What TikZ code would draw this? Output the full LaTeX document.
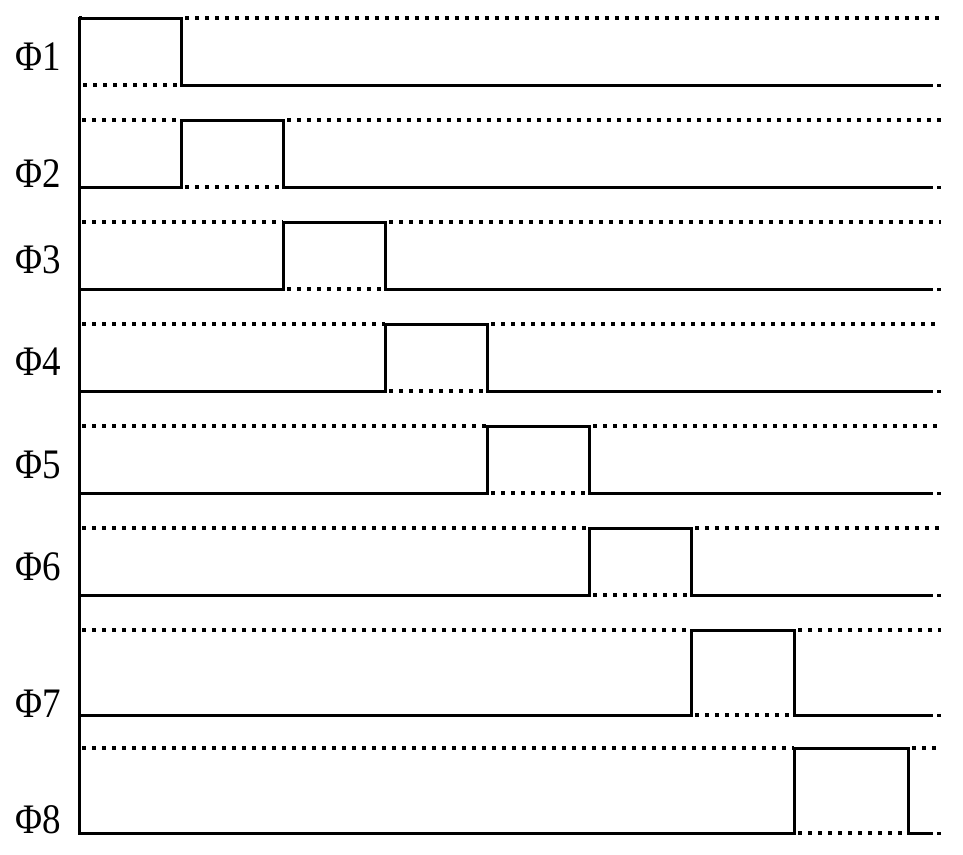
\documentclass[tikz,border=0pt]{standalone}
\usepackage{fontspec}
\setmainfont{Liberation Serif}
\begin{document}
\begin{tikzpicture}[x=1pt,y=-1pt,
  sig/.style={line width=3pt, line cap=butt, line join=miter},
  dots/.style={line width=3.2pt, dash pattern=on 3.5pt off 6.5pt},
  lbl/.style={anchor=base west, inner sep=0pt, xscale=0.88, font=\fontsize{42}{42}\selectfont}]
\useasboundingbox (0,0) rectangle (963,854);
\draw[sig] (79,18) -- (79,834.5);
\foreach \i/\h/\l/\a/\b/\bl in {1/18/85/79/181/70, 2/120/187/181/283/187, 3/222/289/283/385/273, 4/324/391/385/487/375, 5/426/493/487/589/478, 6/528/595/589/691/580, 7/630/715/691/794/717, 8/748/833/794/908/833}{
  \draw[sig] (79,\l) -- (\a,\l) -- (\a,\h) -- (\b,\h) -- (\b,\l) -- (933,\l);
  \draw[dots] (82,\h) -- (\a,\h);
  \draw[dots] (\b+4,\h) -- (941,\h);
  \draw[dots] (\a+4,\l) -- (\b,\l);
  \draw[sig] (937,\l) -- (941,\l);
  \node[lbl] (p\i) at (15,\bl) {Φ\i};
}
\end{tikzpicture}
\end{document}
